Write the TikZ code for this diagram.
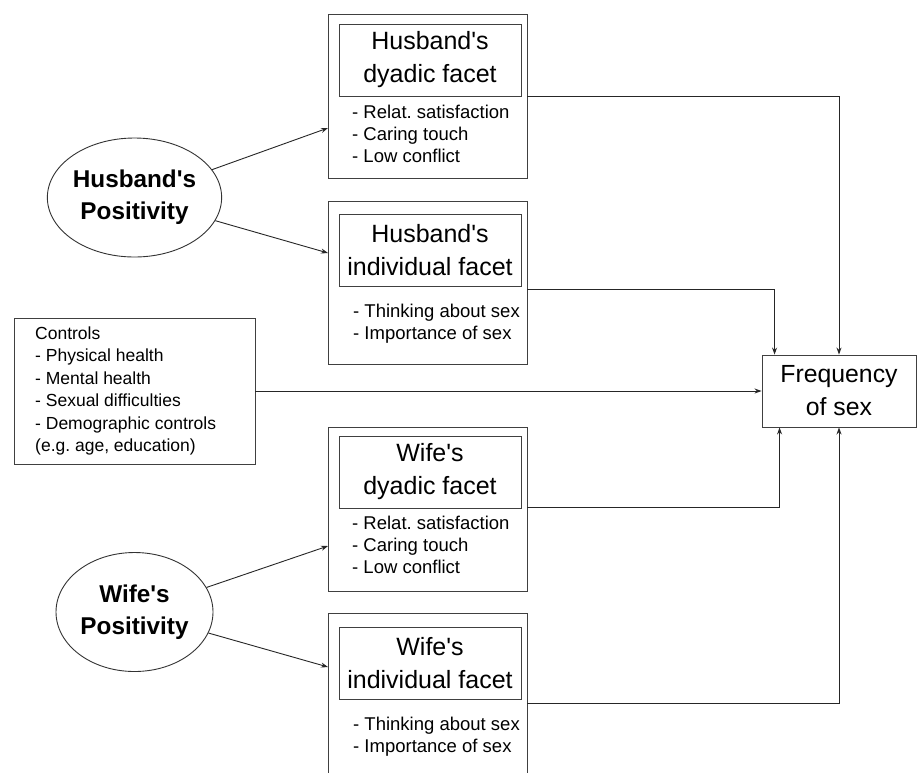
\documentclass[tikz,border=0pt]{standalone}
\usepackage{fontspec}
\setmainfont{Liberation Sans}
\usetikzlibrary{arrows.meta,shapes.geometric}
\newcommand{\apo}{\textquotesingle}
\frenchspacing
\begin{document}
\begin{tikzpicture}[x=1pt,y=-1pt,
  outer/.style={draw=black!75, line width=0.9pt, minimum width=199pt, inner sep=0pt},
  ttl/.style={draw=black!75, line width=0.9pt, minimum width=182pt, minimum height=72pt, inner sep=0pt, align=center, font=\fontsize{25}{33}\selectfont},
  lst/.style={anchor=west, inner sep=0pt, align=left, font=\fontsize{18.5}{22}\selectfont},
  posell/.style={ellipse, draw=black!80, line width=0.9pt, minimum width=157pt, minimum height=119pt, inner sep=0pt, align=center, font=\bfseries\fontsize{24.3}{32}\selectfont},
  arr/.style={draw=black!85, line width=0.9pt, -{Stealth[length=7pt,width=5pt]}}
]
\clip (0,0) rectangle (917,772);
\fill[white] (0,0) rectangle (917,772);

% outer boxes
\node[outer, minimum height=164pt] (hdo) at (427.5,96) {};
\node[outer, minimum height=163pt] (hio) at (427.5,282.5) {};
\node[outer, minimum height=164pt] (wdo) at (427.5,509) {};
\node[outer, minimum height=187pt] (wio) at (427.5,706.5) {};

% inner title boxes
\node[ttl] (hdi) at (430,60) {Husband\apo s\\dyadic facet};
\node[ttl] (hii) at (430,250) {Husband\apo s\\individual facet};
\node[ttl] (wdi) at (430,472) {Wife\apo s\\dyadic facet};
\node[ttl] (wii) at (430,663) {Wife\apo s\\individual facet};

% lists
\node[lst] (hdl) at (352,133.5) {- Relat. satisfaction\\- Caring touch\\- Low conflict};
\node[lst] (hil) at (353,324) {- Thinking about sex\\- Importance of sex};
\node[lst] (wdl) at (352,545) {- Relat. satisfaction\\- Caring touch\\- Low conflict};
\node[lst] (wil) at (353,737) {- Thinking about sex\\- Importance of sex};

% controls
\node[draw=black!75, line width=0.9pt, minimum width=241pt, minimum height=146pt, inner sep=0pt] (ctl) at (134.5,391) {};
\node[anchor=west, inner sep=0pt, align=left, font=\fontsize{17.5}{22.4}\selectfont] (ctt) at (35,391) {Controls\\- Physical health\\- Mental health\\- Sexual difficulties\\- Demographic controls\\(e.g. age, education)};

% outcome
\node[draw=black!75, line width=0.9pt, minimum width=154pt, minimum height=72pt, inner sep=0pt, align=center, font=\fontsize{24.8}{33}\selectfont] (fq) at (839,391) {Frequency\\of sex};

% ellipses
\node[posell] (hp) at (134.5,197.5) {Husband\apo s\\Positivity};
\node[posell] (wp) at (134.5,612) {Wife\apo s\\Positivity};

\coordinate (hdt) at (328,128);
\coordinate (hit) at (328,253);
\coordinate (wdt) at (328,546);
\coordinate (wit) at (328,667);
\draw[arr] (hp) -- (hdt);
\draw[arr] (hp) -- (hit);
\draw[arr] (wp) -- (wdt);
\draw[arr] (wp) -- (wit);

% to outcome
\draw[arr] (hdi.south -| hdo.east) -| (fq.north);
\draw[arr] ([yshift=-3pt]hii.south -| hio.east) -| ([xshift=13pt]fq.north west);
\draw[arr] (ctl.east) -- (fq.west);
\draw[arr] ([yshift=1pt]wdi.south -| wdo.east) -| ([xshift=18pt]fq.south west);
\draw[arr] ([yshift=-4pt]wii.south -| wio.east) -| (fq.south);
\end{tikzpicture}
\end{document}
